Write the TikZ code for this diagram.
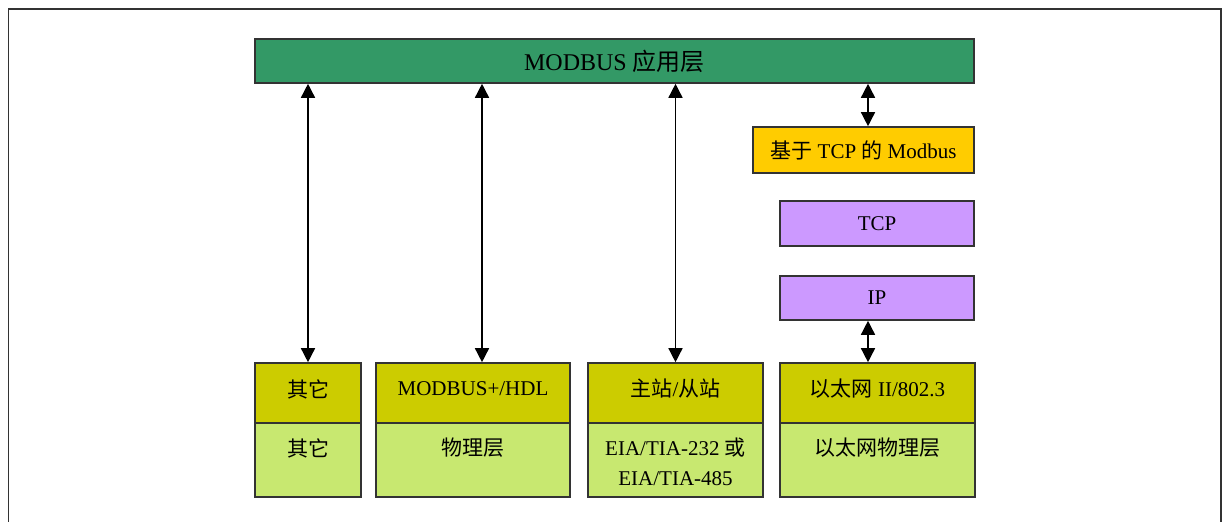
\documentclass[tikz,border=0pt]{standalone}
\usepackage{fontspec}
\setmainfont{Liberation Serif}
\newfontfamily\cjk{Noto Sans CJK SC}
\newcommand{\zh}[1]{{\cjk #1}}
\usetikzlibrary{arrows.meta}
\definecolor{appgreen}{RGB}{51,153,102}
\definecolor{tcpyellow}{RGB}{255,204,0}
\definecolor{ippurple}{RGB}{204,153,255}
\definecolor{linkolive}{RGB}{204,204,0}
\definecolor{phygreen}{RGB}{200,232,112}
\begin{document}
\begin{tikzpicture}[x=0.5pt, y=-0.5pt,
    font=\fontsize{10.5}{15}\selectfont,
    box/.style={draw=black!80, line width=0.8pt, inner sep=0pt},
    linkbox/.style={box, fill=linkolive, minimum height=30pt},
    phybox/.style={box, fill=phygreen, minimum height=37pt},
    link/.style={{Triangle[length=7pt,width=7pt]}-{Triangle[length=7pt,width=7pt]}, line width=0.75pt}]
    \useasboundingbox (0,0) rectangle (1224,522);
    \draw[black!80, line width=0.8pt] (8.5,522) -- (8.5,9) -- (1221,9) -- (1221,522);
    % upper stack
    \node[box, fill=appgreen, minimum width=359.5pt, minimum height=22pt, font=\fontsize{12}{15}\selectfont] (app) at (614.5,61) {MODBUS \zh{应用层}};
    \node[box, fill=tcpyellow, minimum width=110.5pt, minimum height=23pt] (mbtcp) at (863.5,150) {\zh{基于} TCP \zh{的} Modbus};
    \node[box, fill=ippurple, minimum width=97pt, minimum height=22.5pt] (tcp) at (877,223.5) {TCP};
    \node[box, fill=ippurple, minimum width=97pt, minimum height=22pt] (ip) at (877,298) {IP};
    % link layer
    \node[linkbox, minimum width=53pt] (other) at (308,393) {};
    \node[linkbox, minimum width=97pt] (mbplus) at (473,393) {};
    \node[linkbox, minimum width=87.5pt] (master) at (675.5,393) {};
    \node[linkbox, minimum width=97.5pt] (ether) at (877.5,393) {};
    \node[yshift=2pt] (othert) at (other) {\zh{其它}};
    \node[yshift=2pt] (mbplust) at (mbplus) {MODBUS+/HDL};
    \node[yshift=2pt] (mastert) at (master) {\zh{主站}/\zh{从站}};
    \node[yshift=2pt] (ethert) at (ether) {\zh{以太网} II/802.3};
    % physical layer
    \node[phybox, minimum width=53pt] (otherphy) at (308,460) {};
    \node[phybox, minimum width=97pt] (mbphy) at (473,460) {};
    \node[phybox, minimum width=87.5pt] (serial) at (675.5,460) {};
    \node[phybox, minimum width=97.5pt] (etherphy) at (877.5,460) {};
    \node[below, yshift=-4.5pt] (otherphyt) at (otherphy.north) {\zh{其它}};
    \node[below, yshift=-4.5pt] (mbphyt) at (mbphy.north) {\zh{物理层}};
    \node[below, yshift=-4.5pt, align=center] (serialt) at (serial.north) {EIA/TIA-232 \zh{或}\\EIA/TIA-485};
    \node[below, yshift=-4.5pt] (etherphyt) at (etherphy.north) {\zh{以太网物理层}};
    % arrows
    \coordinate (k1) at ([xshift=4.5pt]mbplus.north);
    \coordinate (k2) at ([xshift=2.25pt]mbtcp.north);
    \coordinate (k3) at ([xshift=-4.5pt]ip.south);
    \draw[link] (app.south -| other.north) -- (other.north);
    \draw[link] (k1 |- app.south) -- (k1);
    \draw[link] (app.south -| master.north) -- (master.north);
    \draw[link] (k2 |- app.south) -- (k2);
    \draw[link] (k3) -- (k3 |- ether.north);
\end{tikzpicture}
\end{document}
